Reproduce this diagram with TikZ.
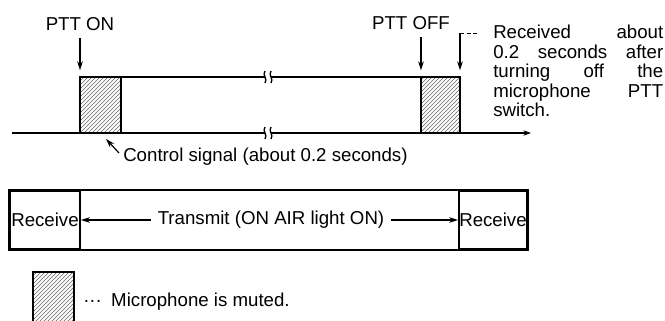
\documentclass[tikz,border=0pt]{standalone}
\usepackage{fontspec}
\setmainfont{Liberation Sans}
\usetikzlibrary{arrows.meta,patterns}

\begin{document}
\begin{tikzpicture}[x=.75pt,y=-.75pt,
  every node/.style={font=\fontsize{14}{16}\selectfont,inner sep=0pt},
  trace/.style={line width=1.6pt},
  muted/.style={draw,line width=1.6pt,pattern=north east lines,pattern color=black!60},
  cue/.style={-{Stealth[length=2.4mm,width=1.5mm]},line width=.9pt},
  cut/.style={line width=1pt},
  frame/.style={draw,line width=1.4pt,minimum height=43.5pt}]
\useasboundingbox (0,0) rectangle (665,321);

% Keying trace: muted head after PTT ON, muted tail after PTT OFF.
\coordinate (on nw) at (80,77);
\coordinate (on se) at (121,133);
\coordinate (off nw) at (421,77);
\coordinate (off ne) at (460,77);
\coordinate (off se) at (460,133);
\draw[muted] (on nw) rectangle (on se);
\draw[muted] (off nw) rectangle (off se);

\draw[trace] (on se |- on nw) -- (265,77);
\draw[trace] (271,77) -- (off nw);
\draw[trace] (12,133) -- (265,133);
\draw[trace,-{Stealth[length=2mm,width=1.4mm]}] (271,133) -- (531,133);
\foreach \y in {77,133}
  \foreach \x in {265,271}
    \draw[cut] (\x,\y-6) .. controls (\x-3,\y-2) and (\x+3,\y+2) .. (\x,\y+6);

\node (ptton) at (80,24) {PTT ON};
\node (pttoff) at (411,23) {PTT OFF};
\draw[cue] (ptton.south) ++(0,7) -- ([yshift=5pt]on nw);
\draw[cue] (pttoff.south -| off nw) ++(0,7) -- ([yshift=5pt]off nw);

\coordinate (lead) at (479,33);
\draw[cue] (lead -| off ne) -- ([yshift=5pt]off ne);
\draw[densely dashed,line width=.7pt] (lead -| off ne) -- (lead);
\node[anchor=north west,text width=127.5pt,align=justify,
  font=\fontsize{14}{14.6}\selectfont] (note) at (493,25)
  {Received\hfill about\\ 0.2\hfill seconds\hfill after\\
   turning\hfill off\hfill the\\ microphone\hfill PTT\\ switch.};

\node[anchor=west] (ctrl) at (123,157) {Control signal (about 0.2 seconds)};
\draw[cue] ([shift={(-4,-4)}]ctrl.west) -- ([shift={(-15,6)}]on se);

% Operating state bar
\node[frame,minimum width=52.5pt] (rxl) at (45,220) {Receive};
\node[frame,minimum width=51pt] (rxr) at (493,220) {Receive};
\draw[frame] (rxl.north west) rectangle (rxr.south east);
\node[inner sep=5pt] (txl) at (271,220) {Transmit (ON AIR light ON)};
\draw[cue] (txl.west) -- (rxl.east);
\draw[cue] (txl.east) -- (rxr.west);

% Legend
\draw[muted] (33,272) rectangle (74,326);
\node[anchor=west] (key) at (83,302) {···\hspace{7pt}Microphone is muted.};
\end{tikzpicture}
\end{document}
